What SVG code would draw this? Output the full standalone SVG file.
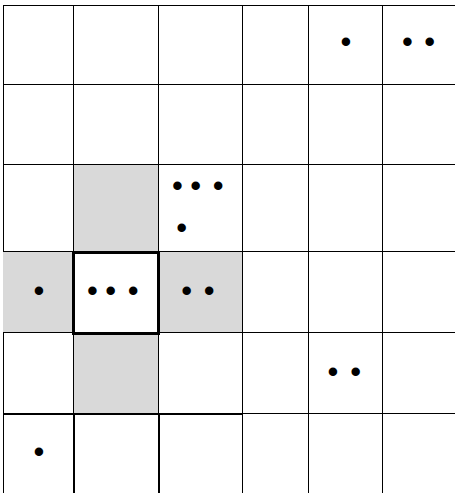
<svg xmlns="http://www.w3.org/2000/svg" width="455" height="493" viewBox="0 0 455 493">
<style>
.grid{stroke:#000;stroke-width:1;fill:none}
.thick{stroke:#000;stroke-width:2;fill:none}
.gray{fill:#d9d9d9}
.dots{font-family:"Liberation Sans",Arial,sans-serif;font-size:31px;fill:#000;text-anchor:middle}
</style>
<rect width="455" height="493" fill="#fff"/>
<g id="shaded">
<rect class="gray" x="74" y="165" width="84" height="86"/>
<rect class="gray" x="3" y="252" width="70" height="80"/>
<rect class="gray" x="159" y="252" width="83" height="80"/>
<rect class="gray" x="74" y="333" width="84" height="80"/>
</g>
<g id="grid">
<path class="grid" d="M3,5.5H455 M3,84.5H455 M3,164.5H455 M3,251.5H455 M3,332.5H455 M242,413.5H455"/>
<path class="grid" d="M3.5,5V252 M3.5,332V493 M73.5,5V413 M158.5,5V413 M242.5,5V493 M308.5,5V493 M382.5,5V493"/>
<path class="thick" d="M3,414H243 M74,414V493 M159,414V493"/>
</g>
<g id="selected">
<rect x="73.5" y="252.5" width="85" height="81" fill="#fff" stroke="#000" stroke-width="3"/>
</g>
<g id="cells">
<text class="dots" y="52.2"><tspan x="346">•</tspan></text>
<text class="dots" y="52.2"><tspan x="411.7">•</tspan> <tspan x="429.7">•</tspan></text>
<text class="dots" y="195.5"><tspan x="181.7">•</tspan> <tspan x="200">•</tspan> <tspan x="218.3">•</tspan></text>
<text class="dots" y="238.2"><tspan x="181.7">•</tspan></text>
<text class="dots" y="301.2"><tspan x="39">•</tspan></text>
<text class="dots" y="301.2"><tspan x="96.7">•</tspan> <tspan x="115">•</tspan> <tspan x="133.3">•</tspan></text>
<text class="dots" y="301.2"><tspan x="191">•</tspan> <tspan x="209.3">•</tspan></text>
<text class="dots" y="382.2"><tspan x="337.3">•</tspan> <tspan x="355.7">•</tspan></text>
<text class="dots" y="462.2"><tspan x="39">•</tspan></text>
</g>
</svg>
